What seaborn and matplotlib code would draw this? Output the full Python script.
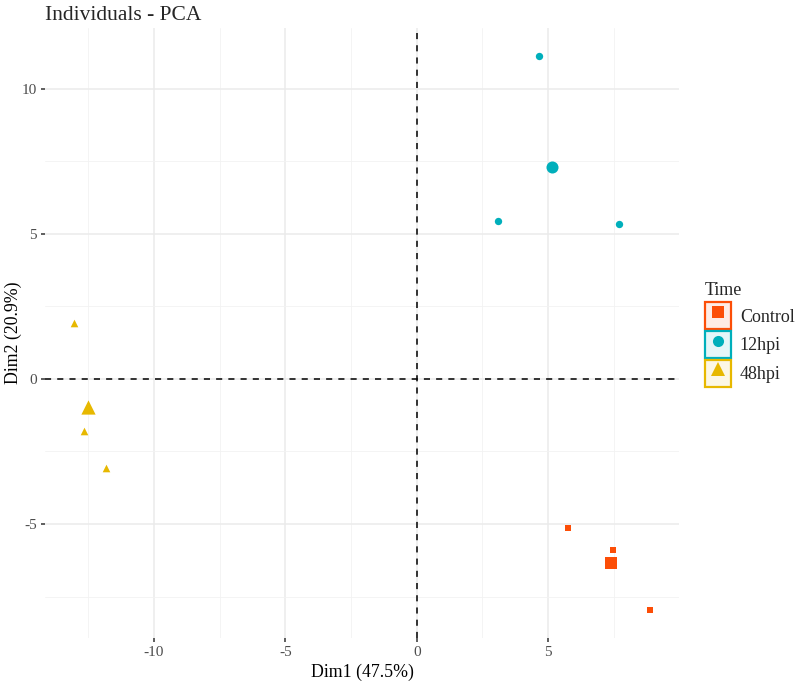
import numpy as np
import pandas as pd
import matplotlib
matplotlib.use("Agg")
import matplotlib.pyplot as plt
from matplotlib.lines import Line2D
from matplotlib.patches import Rectangle
from matplotlib.ticker import MultipleLocator
from matplotlib.legend_handler import HandlerTuple
import seaborn as sns

# individuals (Dim1, Dim2)
groups = ["Control", "Control", "Control",
          "12hpi", "12hpi", "12hpi",
          "48hpi", "48hpi", "48hpi"]
dim1 = [5.77, 7.46, 8.88, 4.64, 3.08, 7.68, -13.04, -12.65, -11.83]
dim2 = [-5.14, -5.90, -7.97, 11.14, 5.45, 5.34, 1.93, -1.79, -3.07]

# group centres (the big markers)
mean_groups = ["Control", "12hpi", "48hpi"]
mean_dim1 = [7.38, 5.13, -12.49]
mean_dim2 = [-6.33, 7.31, -0.95]

levels = ["Control", "12hpi", "48hpi"]
colors = {"Control": "#FC4E07", "12hpi": "#00AFBB", "48hpi": "#E7B800"}
markers = {"Control": "s", "12hpi": "o", "48hpi": "^"}
small_size = {"Control": 22, "12hpi": 28, "48hpi": 30}
big_size = {"Control": 70, "12hpi": 75, "48hpi": 105}

df = pd.DataFrame({"Dim1": dim1, "Dim2": dim2, "Time": groups})
df_mean = pd.DataFrame({"Dim1": mean_dim1, "Dim2": mean_dim2, "Time": mean_groups})

sns.set_theme(style="white")
plt.rcParams["font.family"] = ["Liberation Serif", "DejaVu Serif"]

fig = plt.figure(figsize=(7.97, 6.81), dpi=100)
ax = fig.add_axes([0.0565, 0.0631, 0.7955, 0.8959])

# grid like theme_minimal
ax.xaxis.set_major_locator(MultipleLocator(5))
ax.yaxis.set_major_locator(MultipleLocator(5))
ax.xaxis.set_minor_locator(MultipleLocator(2.5))
ax.yaxis.set_minor_locator(MultipleLocator(2.5))
ax.grid(which="major", color="#EBEBEB", linewidth=1.1)
ax.grid(which="minor", color="#F2F2F2", linewidth=0.6)
ax.set_axisbelow(True)

ax.axhline(0, color="black", linestyle=(0, (4, 4)), linewidth=1.1, zorder=1)
ax.axvline(0, color="black", linestyle=(0, (4, 4)), linewidth=1.1, zorder=1)

for g in levels:
    sub = df[df["Time"] == g]
    sns.scatterplot(data=sub, x="Dim1", y="Dim2", color=colors[g], marker=markers[g],
                    s=small_size[g], linewidth=0, ax=ax, zorder=3, legend=False)
    msub = df_mean[df_mean["Time"] == g]
    sns.scatterplot(data=msub, x="Dim1", y="Dim2", color=colors[g], marker=markers[g],
                    s=big_size[g], linewidth=0, ax=ax, zorder=3, legend=False)

ax.set_xlim(-14.14, 9.98)
ax.set_ylim(-8.93, 12.10)
for s in ax.spines.values():
    s.set_visible(False)

ax.tick_params(which="major", length=3, width=1.1, color="#333333",
               labelsize=11, labelcolor="#4D4D4D", pad=3, bottom=True, left=True)
ax.tick_params(which="minor", length=0)
ax.set_xticks([-10, -5, 0, 5])
ax.set_yticks([-5, 0, 5, 10])
ax.set_xticklabels(["-10", "-5", "0", "5"])
ax.set_yticklabels(["-5", "0", "5", "10"])

ax.set_xlabel("Dim1 (47.5%)", fontsize=12.8, color="black", labelpad=3)
ax.set_ylabel("Dim2 (20.9%)", fontsize=12.8, color="black")
ax.yaxis.set_label_coords(-0.036, 0.5)
ax.set_title("Individuals - PCA", fontsize=15.5, loc="left", x=0.0, pad=6)

handles = []
for g in levels:
    box = Rectangle((0, 0), 1, 1, facecolor=matplotlib.colors.to_rgba(colors[g], 0.1),
                    edgecolor=colors[g], linewidth=1.6)
    mk = Line2D([], [], marker=markers[g], color=colors[g], linestyle="None",
                markersize=8 if g != "48hpi" else 10, markeredgewidth=0)
    handles.append((box, mk))

leg = fig.legend(handles, levels, title="Time", loc="upper left",
                 bbox_to_anchor=(0.875, 0.596), frameon=False, fontsize=13,
                 title_fontsize=13, handlelength=1.45, handleheight=1.95,
                 handletextpad=0.5, labelspacing=0.08, borderaxespad=0,
                 handler_map={tuple: HandlerTuple(ndivide=1, pad=0)})
leg._legend_box.align = "left"
leg._legend_box.sep = 2

fig.savefig("out.png", dpi=100, facecolor="white")
